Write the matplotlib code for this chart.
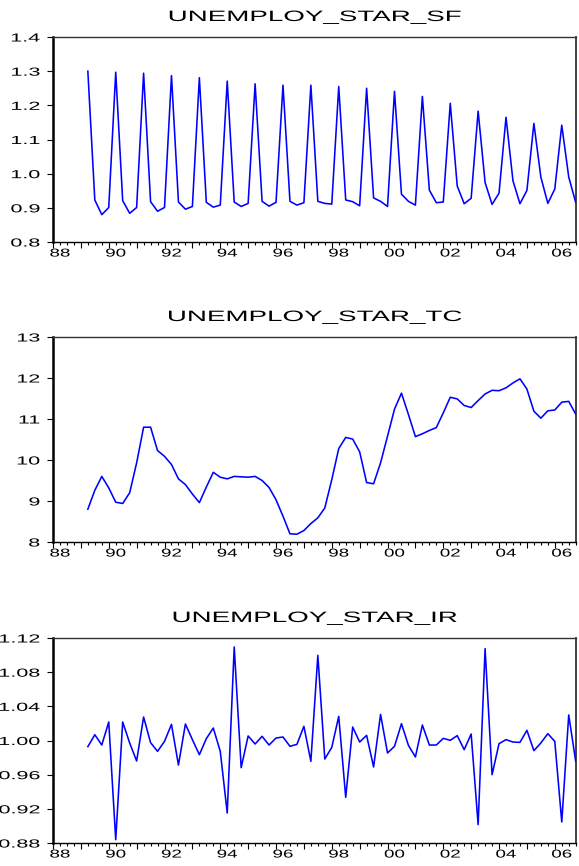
import matplotlib
matplotlib.use("Agg")
import matplotlib.pyplot as plt
import matplotlib.patheffects as pe
from matplotlib.transforms import Affine2D
from matplotlib.ticker import FixedLocator, FuncFormatter, NullFormatter
import numpy as np
import pandas as pd

# quarterly sample 1989Q1 - 2006Q3
quarters = pd.period_range("1989Q1", "2006Q3", freq="Q")

sf = [1.300, 0.923, 0.880, 0.901,
      1.297, 0.921, 0.884, 0.901,
      1.294, 0.918, 0.890, 0.901,
      1.287, 0.917, 0.896, 0.904,
      1.281, 0.916, 0.902, 0.908,
      1.271, 0.917, 0.904, 0.913,
      1.263, 0.919, 0.905, 0.916,
      1.259, 0.919, 0.908, 0.915,
      1.259, 0.919, 0.913, 0.911,
      1.255, 0.923, 0.918, 0.906,
      1.250, 0.929, 0.919, 0.904,
      1.241, 0.940, 0.919, 0.908,
      1.226, 0.952, 0.915, 0.917,
      1.206, 0.964, 0.912, 0.928,
      1.183, 0.974, 0.910, 0.943,
      1.165, 0.979, 0.912, 0.951,
      1.147, 0.990, 0.913, 0.955,
      1.142, 0.990, 0.916]

tc = [8.80, 9.26, 9.60, 9.32,
      8.97, 8.94, 9.20, 9.93,
      10.80, 10.80, 10.23, 10.09,
      9.89, 9.54, 9.40, 9.17,
      8.96, 9.34, 9.70, 9.58,
      9.54, 9.60, 9.59, 9.58,
      9.60, 9.50, 9.33, 9.03,
      8.63, 8.20, 8.19, 8.28,
      8.45, 8.59, 8.83, 9.52,
      10.28, 10.55, 10.51, 10.20,
      9.45, 9.42, 9.93, 10.58,
      11.24, 11.63, 11.11, 10.57,
      10.64, 10.72, 10.79, 11.15,
      11.53, 11.49, 11.33, 11.28,
      11.45, 11.61, 11.70, 11.69,
      11.76, 11.88, 11.98, 11.73,
      11.19, 11.02, 11.20, 11.22,
      11.41, 11.43, 11.12]

ir = [0.9928, 1.0068, 0.9947, 1.0217,
      0.8839, 1.0217, 0.9971, 0.9760,
      1.0275, 0.9975, 0.9873, 0.9990,
      1.0189, 0.9713, 1.0193, 1.0010,
      0.9834, 1.0022, 1.0146, 0.9873,
      0.9151, 1.1095, 0.9682, 1.0053,
      0.9959, 1.0049, 0.9947, 1.0029,
      1.0041, 0.9932, 0.9955, 1.0166,
      0.9756, 1.0997, 0.9783, 0.9920,
      1.0283, 0.9335, 1.0158, 0.9982,
      1.0060, 0.9690, 1.0306, 0.9854,
      0.9932, 1.0197, 0.9943, 0.9807,
      1.0181, 0.9947, 0.9947, 1.0025,
      1.0002, 1.0057, 0.9893, 1.0076,
      0.9015, 1.1075, 0.9600, 0.9963,
      1.0010, 0.9982, 0.9978, 1.0119,
      0.9881, 0.9971, 1.0080, 0.9990,
      0.9046, 1.0299, 0.9756]

titles = ["UNEMPLOY_STAR_SF", "UNEMPLOY_STAR_TC", "UNEMPLOY_STAR_IR"]
yticks = [[0.8, 0.9, 1.0, 1.1, 1.2, 1.3, 1.4],
          [8, 9, 10, 11, 12, 13],
          [0.88, 0.92, 0.96, 1.00, 1.04, 1.08, 1.12]]
yfmt = ["%.1f", "%d", "%.2f"]
year_labels = [1988, 1990, 1992, 1994, 1996, 1998, 2000, 2002, 2004, 2006]


class Stretch(pe.AbstractPathEffect):
    """widen text horizontally, like the eviews fonts"""
    def __init__(self, sx, anchor="center"):
        super().__init__()
        self.sx = sx
        self.anchor = anchor

    def draw_path(self, renderer, gc, tpath, affine, rgbFace=None):
        ext = tpath.get_extents(affine)
        if self.anchor == "right":
            cx = ext.x1
        else:
            cx = (ext.x0 + ext.x1) / 2
        affine = affine + Affine2D().translate(-cx, 0).scale(self.sx, 1).translate(cx, 0)
        renderer.draw_path(gc, tpath, affine, rgbFace)


plt.rcParams['font.family'] = ['Liberation Sans', 'DejaVu Sans']

W, H = 579, 866
fig = plt.figure(figsize=(W / 100, H / 100), dpi=100)

x = np.array([q.year + (q.quarter - 1) / 4 for q in quarters])
series = [sf, tc, ir]
tops = [37, 337, 638]
left_px, right_px, height_px = 53, 575.7, 205

for k in range(3):
    top = tops[k]
    ax = fig.add_axes([left_px / W, 1 - (top + height_px) / H,
                       (right_px - left_px) / W, height_px / H])
    ax.plot(x, series[k], color=(0, 0, 1), lw=1.15)

    ax.set_xlim(1987.75, 2006.5)
    ax.set_ylim(yticks[k][0], yticks[k][-1])

    # long ticks at year boundaries, short ones every quarter, labels on even years
    ax.xaxis.set_major_locator(FixedLocator(np.arange(1987.75, 2006.6, 1.0)))
    ax.xaxis.set_major_formatter(NullFormatter())
    ax.xaxis.set_minor_locator(FixedLocator(np.arange(1987.75, 2006.6, 0.25)))
    ax.xaxis.set_minor_formatter(FuncFormatter(
        lambda v, p: "%02d" % (int(round(v)) % 100)
        if abs(v - round(v)) < 1e-6 and int(round(v)) in year_labels else ""))
    ax.tick_params(axis="x", which="major", direction="out", length=4, width=0.8)
    ax.tick_params(axis="x", which="minor", direction="out", length=2.2, width=0.8,
                   labelsize=8.2, pad=2.5)

    ax.set_yticks(yticks[k])
    ax.set_yticklabels([yfmt[k] % v for v in yticks[k]])
    ax.tick_params(axis="y", direction="out", length=4.5, width=0.8,
                   labelsize=8.4, pad=5)

    for lab in ax.get_xticklabels(minor=True):
        lab.set_path_effects([Stretch(1.65)])
    for lab in ax.get_yticklabels():
        lab.set_path_effects([Stretch(1.85, anchor="right")])

    ax.spines["left"].set_linewidth(1.8)
    ax.spines["bottom"].set_linewidth(1.0)
    ax.spines["top"].set_linewidth(1.0)
    ax.spines["right"].set_linewidth(1.2)
    ax.spines["top"].set_color("#333333")
    ax.spines["right"].set_color("#222222")

    fig.text(315 / W, 1 - (top - 16) / H, titles[k], ha="center", va="baseline",
             fontsize=10.8, path_effects=[Stretch(1.85)])

fig.savefig("out.png", dpi=100)
